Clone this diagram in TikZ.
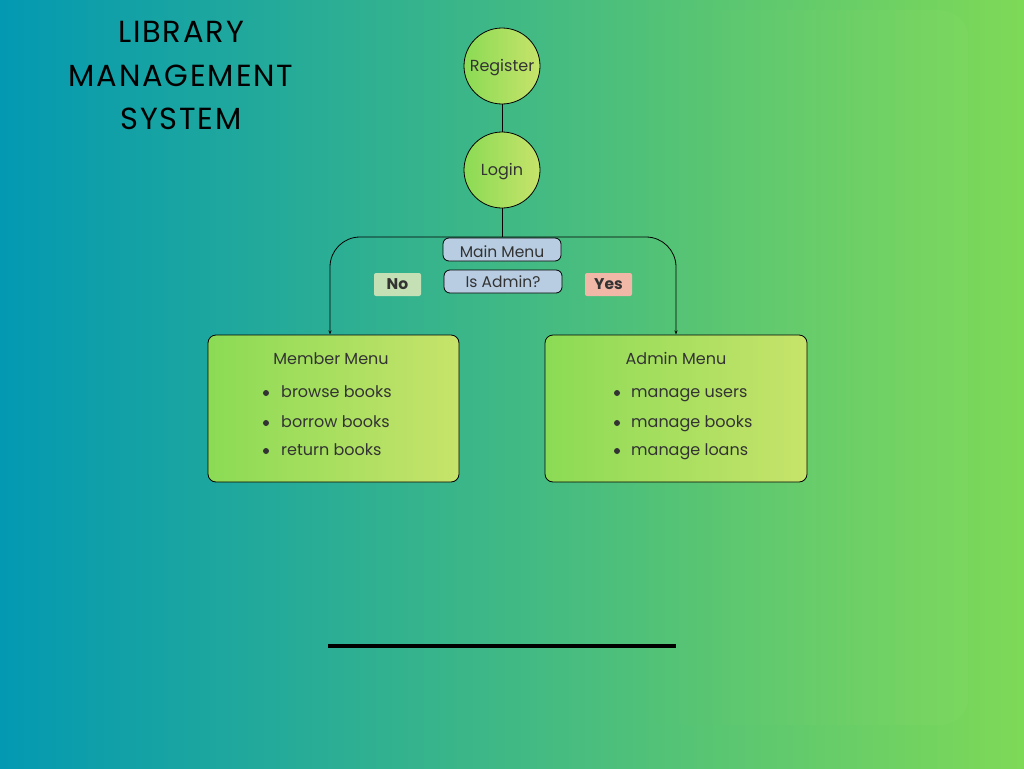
\documentclass[tikz,border=0pt]{standalone}
\usepackage{fontspec}
\setmainfont{Poppins}
\newfontfamily\titlefont[LetterSpace=6]{Poppins}
\usetikzlibrary{arrows.meta,fadings,calc}
\definecolor{bgL}{RGB}{3,153,178}
\definecolor{bgR}{RGB}{126,217,87}
\definecolor{ndL}{RGB}{139,219,85}
\definecolor{ndR}{RGB}{199,227,106}
\definecolor{menublue}{RGB}{184,205,226}
\definecolor{nogreen}{RGB}{197,224,180}
\definecolor{yesred}{RGB}{241,184,168}
\definecolor{txt}{RGB}{51,51,51}
\tikzfading[name=fadeleft, left color=transparent!100, right color=transparent!0]
\tikzset{
  gnode/.style={draw=black, line width=0.8pt, left color=ndL, right color=ndR, text=txt, font=\fontsize{16}{19}\selectfont},
  circ/.style={gnode, circle, minimum size=76pt, inner sep=0pt, text height=12pt, text depth=1.5pt},
  menubox/.style={gnode, rounded corners=8pt, minimum height=147pt},
  tag/.style={draw=black, line width=0.8pt, fill=menublue, rounded corners=6pt, minimum width=118pt, minimum height=23pt, inner sep=0pt, text=txt, font=\fontsize{15.5}{18}\selectfont},
  lab/.style={rounded corners=2pt, minimum width=47pt, minimum height=23pt, inner sep=0pt, text=txt, font=\fontsize{15.5}{18}\selectfont\bfseries},
  itm/.style={anchor=base west, text=txt, inner sep=0pt, font=\fontsize{16}{19}\selectfont},
  hdr/.style={anchor=base, text=txt, inner sep=0pt, font=\fontsize{16}{19}\selectfont},
  bul/.style={circle, fill=txt, inner sep=0pt, minimum size=6pt},
  conn/.style={draw=black, line width=0.8pt},
  arr/.style={conn, rounded corners=30pt, -{Stealth[length=4pt,width=3pt]}},
  ttl/.style={text=black, font=\fontsize{30.5}{36}\selectfont\titlefont}
}
\begin{document}
\begin{tikzpicture}[x=1pt,y=-1pt]
\useasboundingbox (0,0) rectangle (1024,768);
\shade[left color=bgL, right color=bgR] (0,0) rectangle (1024,768);
\fill[bgR!85!white, opacity=0.15, path fading=fadeleft, rounded corners=28pt] (640,10) rectangle (968,725);

% title
\node[ttl] (t1) at (181,32) {LIBRARY};
\node[ttl] (t2) at (181,76) {MANAGEMENT};
\node[ttl] (t3) at (181,119) {SYSTEM};

% circles
\node[circ] (reg) at (502,66) {Register};
\node[circ] (login) at (502,170) {Login};

% menu boxes
\node[menubox, minimum width=251pt] (member) at (333.5,408.5) {};
\node[menubox, minimum width=262pt] (admin) at (676,408.5) {};

\coordinate (J) at (502,237);
\coordinate (mtop) at (330,334.5);
\coordinate (atop) at (676,334.5);

\draw[conn] (reg) -- (login);
\draw[conn] (login) -- (J);
\draw[arr] (J) -| (mtop);
\draw[arr] (J) -| (atop);

% decision tags
\node[tag, text height=15.5pt, text depth=0pt] (mm) at (502,249.5) {Main Menu};
\node[tag] (adm) at (503,281.5) {Is Admin?};
\node[lab, fill=nogreen] (no) at (397.5,284.5) {No};
\node[lab, fill=yesred] (yes) at (608.5,284.5) {Yes};

% member menu contents
\node[hdr] (mt) at (331,364) {Member Menu};
\node[bul] (mb1) at (266,393) {};
\node[bul] (mb2) at (266,423) {};
\node[bul] (mb3) at (266,451) {};
\node[itm] (m1) at (281,397.5) {browse books};
\node[itm] (m2) at (281,427.5) {borrow books};
\node[itm] (m3) at (281,455.5) {return books};

% admin menu contents
\node[hdr] (at) at (676,364) {Admin Menu};
\node[bul] (ab1) at (617,393) {};
\node[bul] (ab2) at (617,423) {};
\node[bul] (ab3) at (617,451) {};
\node[itm] (a1) at (631,397.5) {manage users};
\node[itm] (a2) at (631,427.5) {manage books};
\node[itm] (a3) at (631,455.5) {manage loans};

% bottom rule
\coordinate (r1) at (328,646);
\coordinate (r2) at (676,646);
\draw[line width=3.5pt, black] (r1) -- (r2);
\end{tikzpicture}
\end{document}
